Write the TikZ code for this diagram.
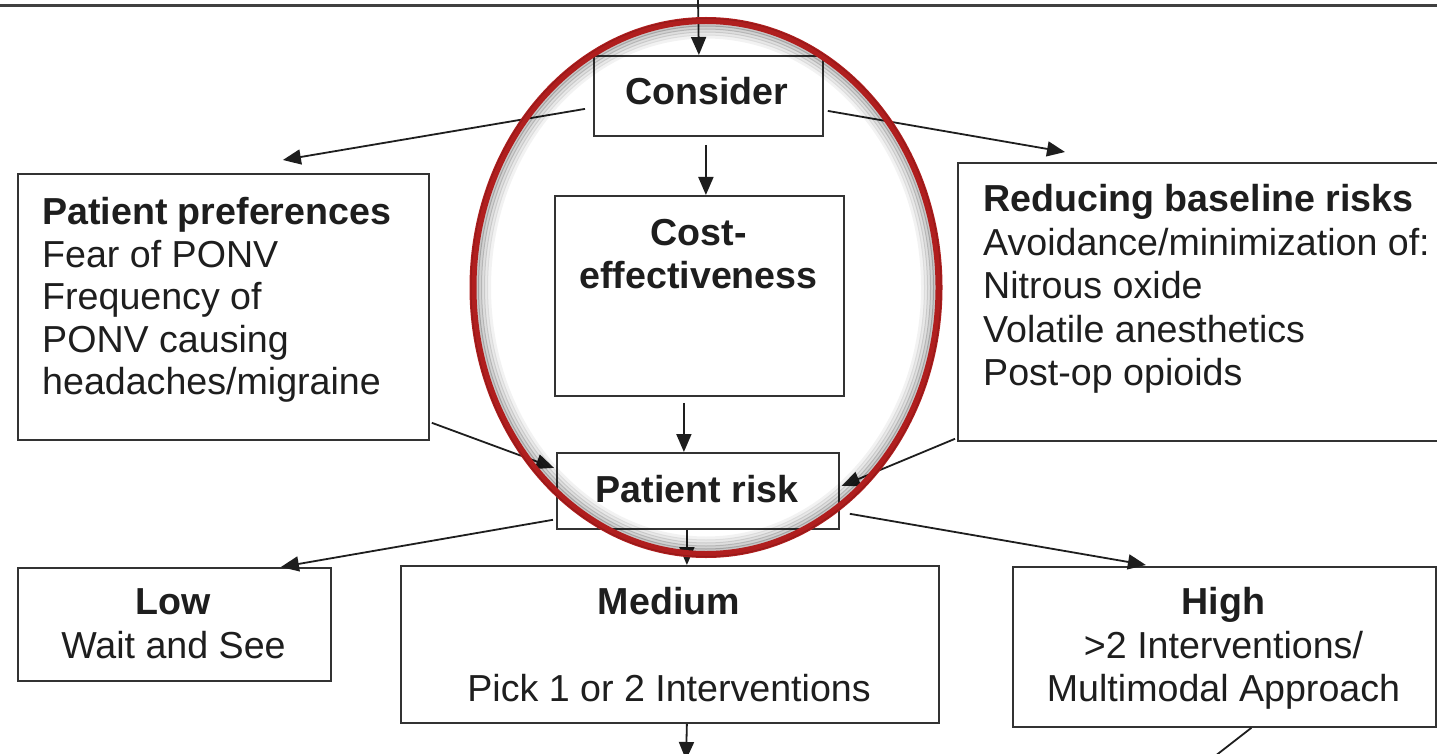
\documentclass[tikz,border=0pt]{standalone}
\usepackage{fontspec}
\setmainfont{Liberation Sans}
\usetikzlibrary{arrows.meta,calc}
\definecolor{ink}{HTML}{1E1E1E}
\definecolor{boxline}{HTML}{333333}
\definecolor{redmark}{HTML}{B01E1E}
\tikzset{
  box/.style={draw=boxline, line width=1.8pt, minimum width=#1, inner sep=0pt, anchor=north west},
  txt/.style={text=ink, inner sep=0pt, font=\fontsize{37.6}{43}\selectfont},
  conn/.style={draw=ink, line width=1.8pt, -{Triangle[length=18pt,width=15pt]}},
  plain/.style={draw=ink, line width=1.8pt},
}
\begin{document}
\begin{tikzpicture}[x=1pt,y=-1pt]
\clip (0,0) rectangle (1437,754);
\useasboundingbox (0,0) rectangle (1437,754);
\fill[white] (0,0) rectangle (1437,754);

% top rule
\coordinate (ruleL) at (0,6);
\coordinate (ruleR) at (1437,6);
\draw[line width=3pt, draw=black!75] (ruleL) -- (ruleR);

% boxes
\node[box=229pt, minimum height=80pt] (consider) at (593,55) {};
\node[box=289pt, minimum height=200pt] (cost) at (554,195) {};
\node[box=411pt, minimum height=266pt] (pref) at (17,173) {};
\node[box=500pt, minimum height=278pt] (reduce) at (957,162) {};
\node[box=282pt, minimum height=76pt] (risk) at (556,452) {};
\node[box=313pt, minimum height=113pt] (low) at (17,567) {};
\node[box=538pt, minimum height=157pt] (medium) at (400,565) {};
\node[box=423pt, minimum height=160pt] (high) at (1012,566) {};

% texts
\node[txt, anchor=base] (tconsider) at (707,104.5) {\bfseries Consider};
\node[txt, anchor=north, align=center] (tcost) at (698.5,217.5)
  {\bfseries\rule{0pt}{28pt}Cost-\\\bfseries effectiveness};
\node[txt, anchor=north west, align=left, font=\fontsize{37.6}{42.5}\selectfont] (tpref) at (42,196.5)
  {\textbf{\rule{0pt}{28pt}Patient preferences}\\Fear of PONV\\Frequency of\\PONV causing\\headaches/migraine};
\node[txt, anchor=north west, align=left, font=\fontsize{37.6}{43.5}\selectfont] (treduce) at (983,183.5)
  {\textbf{\rule{0pt}{28pt}Reducing baseline risks}\\Avoidance/minimization of:\\Nitrous oxide\\Volatile anesthetics\\Post-op opioids};
\node[txt, anchor=base] (trisk) at (697,502.5) {\bfseries Patient risk};
\node[txt, anchor=north, align=center, font=\fontsize{37.6}{44}\selectfont] (tlow) at (173.5,586.5)
  {\textbf{\rule{0pt}{28pt}Low}\\Wait and See};
\node[txt, anchor=north, align=center, font=\fontsize{37.6}{43.5}\selectfont] (tmedium) at (669,586.5)
  {\textbf{\rule{0pt}{28pt}Medium}\\\mbox{}\\Pick 1 or 2 Interventions};
\node[txt, anchor=north, align=center, font=\fontsize{37.6}{43.5}\selectfont] (thigh) at (1223.5,586.5)
  {\textbf{\rule{0pt}{28pt}High}\\>2 Interventions/\\Multimodal Approach};

% connectors
\coordinate (inTop) at (698,0);
\coordinate (outMed) at (686,760);
\coordinate (outHigh) at (1210,760);
\draw[conn] (inTop) -- ($(consider.north)+(-9.5,0)$);
\draw[conn] ($(consider.west)+(-8,13)$) -- ($(pref.north)+(59.5,-13)$);
\draw[conn] ($(consider.east)+(4,15)$) -- ($(reduce.north west)+(108,-10)$);
\draw[conn] ($(consider.south)+(-2.5,8)$) -- ($(cost.north)+(6.5,0)$);
\draw[conn] ($(cost.south)+(-15.5,6)$) -- ($(risk.north)+(-14,0)$);
\draw[conn] ($(pref.south east)+(2,-18)$) -- ($(risk.west)+(-2,-23)$);
\draw[conn] ($(reduce.south west)+(-2,-3)$) -- ($(risk.east)+(2,-5)$);
\draw[conn] ($(risk.south west)+(-3,-10)$) -- ($(low.north)+(106.5,0)$);
\draw[conn] ($(risk.south east)+(10,-16)$) -- ($(high.north)+(-78.5,-1)$);
\draw[conn] ($(risk.south)+(-11,0)$) -- ($(medium.north)+(17,0)$);
\draw[conn] ($(medium.south)+(17,0)$) -- (outMed);
\draw[plain] ($(high.south)+(27,0)$) -- (outHigh);

% red hand-drawn ellipse with soft inner shadow
\coordinate (ringC) at (706,287.5);
\foreach \d/\o in {16/0.05,13/0.09,10/0.13,7/0.18,4/0.22}{
  \draw[black, opacity=\o, line width=4pt] (ringC) ellipse [x radius={233-\d}, y radius={267-\d}];
}
\draw[redmark, line width=7pt] (ringC) ellipse [x radius=233, y radius=267];
\draw[redmark!70!black, line width=1pt, opacity=0.5] (ringC) ellipse [x radius=235, y radius=269];
\end{tikzpicture}
\end{document}
